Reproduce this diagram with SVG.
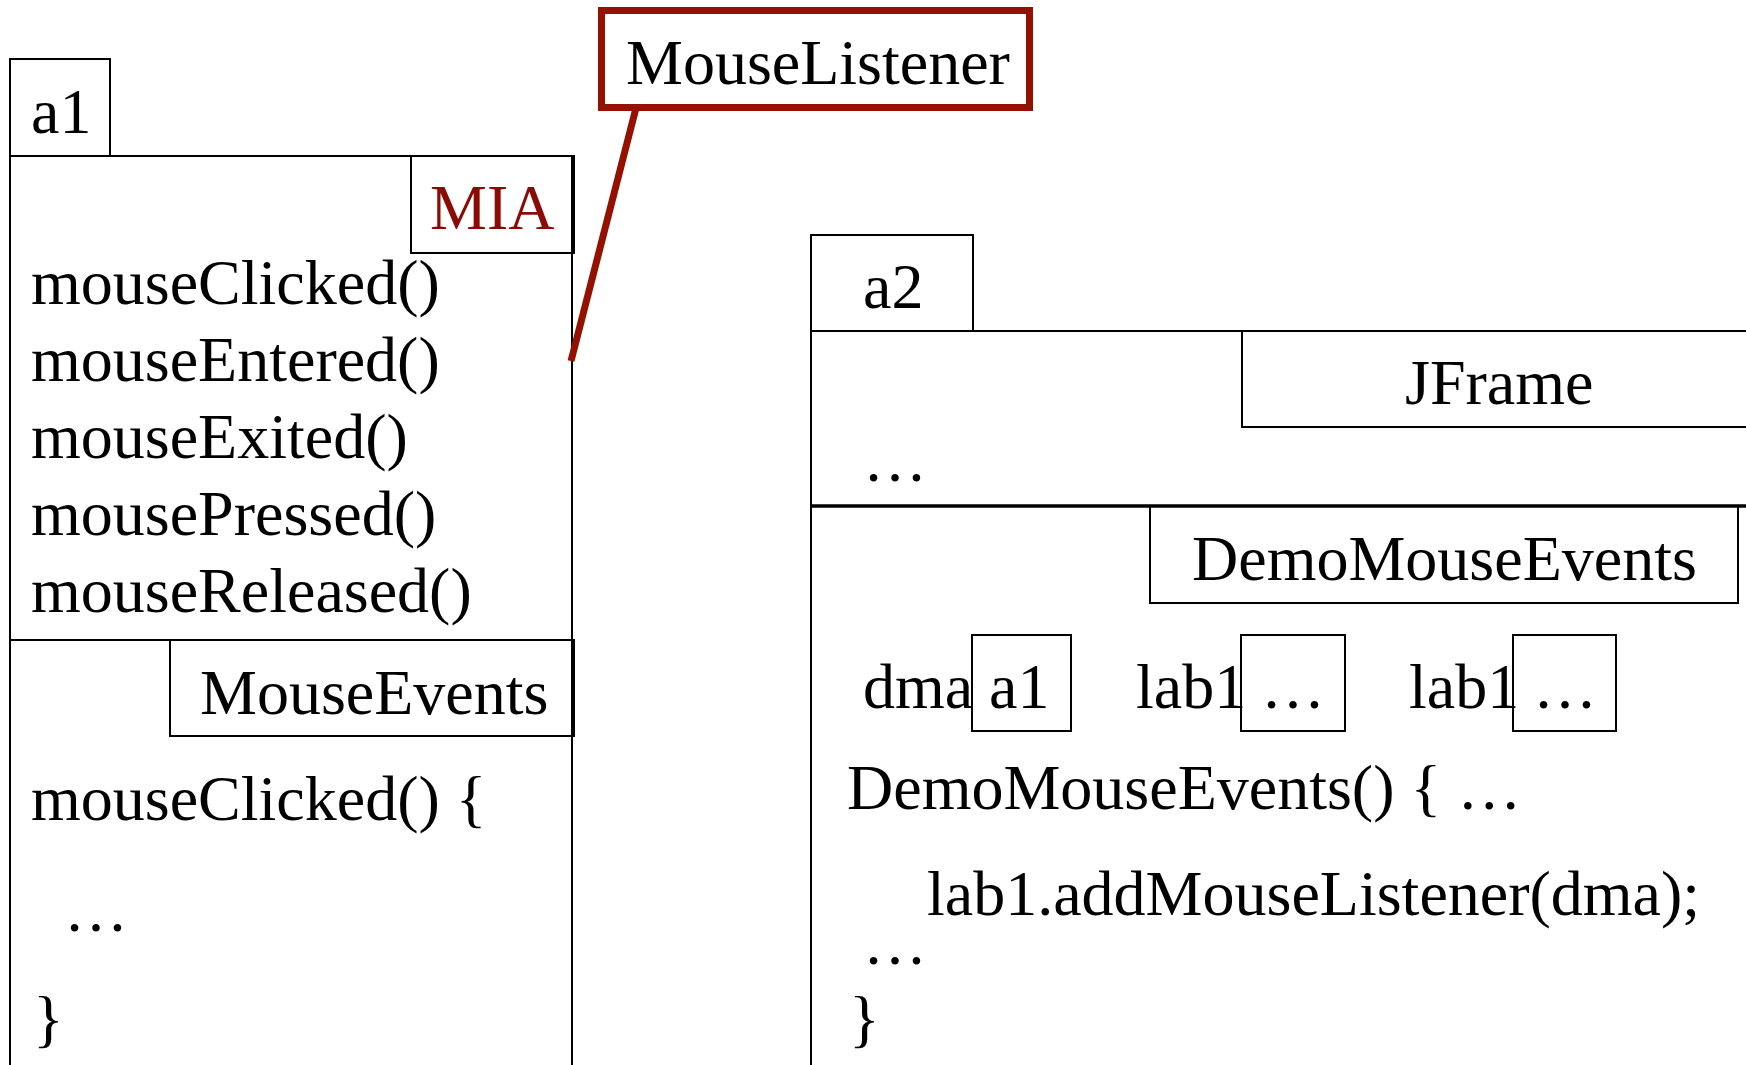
<svg xmlns="http://www.w3.org/2000/svg" width="1746" height="1065" viewBox="0 0 1746 1065">
<style>
.t{font-family:"Liberation Serif","Times New Roman",serif;font-size:64px;fill:#000}
.red{fill:#8c0a05}
.b{fill:none;stroke:#000;stroke-width:2}
.bk{fill:none;stroke:#000;stroke-width:3.5}
.r{fill:none;stroke:#941100;stroke-width:7}
</style>
<rect width="1746" height="1065" fill="#fff"/>
<g id="a1-object">
<path class="b" d="M10,1066 V156 H572 V1066"/>
<rect class="b" x="10" y="59" width="100" height="97"/>
<text class="t" x="31" y="133">a1</text>
</g>
<g id="mia-part">
<rect class="b" x="411" y="156" width="163" height="97"/>
<text class="t red" x="430" y="229">MIA</text>
<text class="t" x="31" y="304">mouseClicked()</text>
<text class="t" x="31" y="381">mouseEntered()</text>
<text class="t" x="31" y="458">mouseExited()</text>
<text class="t" x="31" y="535">mousePressed()</text>
<text class="t" x="31" y="612">mouseReleased()</text>
</g>
<g id="mouseevents-part">
<line class="b" x1="10" y1="640" x2="573" y2="640"/>
<rect class="b" x="170" y="640" width="404" height="96"/>
<text class="t" x="200" y="714">MouseEvents</text>
<text class="t" x="31" y="820">mouseClicked() {</text>
<text class="t" x="64" y="931">…</text>
<text class="t" x="33" y="1040">}</text>
</g>
<g id="mouselistener">
<rect class="r" x="601.5" y="10.5" width="428" height="97"/>
<text class="t" x="626" y="84">MouseListener</text>
</g>
<g id="a2-object">
<path class="b" d="M811,1066 V331 H1746"/>
<rect class="b" x="811" y="235" width="162" height="96"/>
<text class="t" x="863" y="308">a2</text>
</g>
<g id="jframe-part">
<path class="b" d="M1242,331 V427 H1747"/>
<text class="t" x="1405" y="404">JFrame</text>
<text class="t" x="863" y="481">…</text>
</g>
<g id="demomouseevents-part">
<line class="bk" x1="811" y1="506" x2="1746" y2="506"/>
<rect class="b" x="1150" y="506" width="588" height="97"/>
<text class="t" x="1192" y="580">DemoMouseEvents</text>
<text class="t" x="863" y="708">dma</text>
<rect class="b" x="972" y="635" width="99" height="96"/>
<text class="t" x="989" y="708">a1</text>
<text class="t" x="1136" y="708">lab1</text>
<rect class="b" x="1241" y="635" width="104" height="96"/>
<text class="t" x="1261" y="708">…</text>
<text class="t" x="1409" y="708">lab1</text>
<rect class="b" x="1513" y="635" width="103" height="96"/>
<text class="t" x="1533" y="708">…</text>
<text class="t" x="847" y="809">DemoMouseEvents() { …</text>
<text class="t" x="927" y="915">lab1.addMouseListener(dma);</text>
<text class="t" x="863" y="964">…</text>
<text class="t" x="849" y="1040">}</text>
</g>
<g id="connectors">
<line class="r" x1="636" y1="108" x2="571" y2="361"/>
</g>
</svg>
